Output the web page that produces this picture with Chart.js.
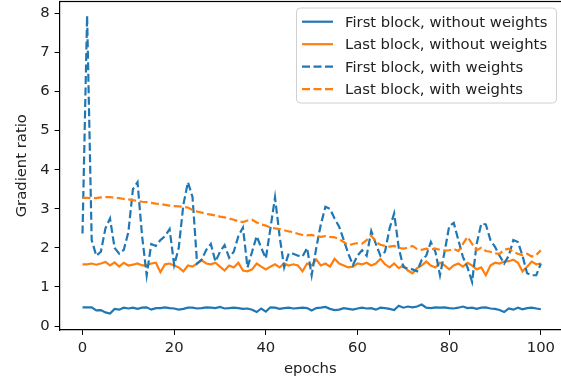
<!DOCTYPE html>
<html>
<head>
<meta charset="utf-8">
<script src="https://cdn.jsdelivr.net/npm/chart.js@4.4.0/dist/chart.umd.min.js"></script>
<style>
  html, body { margin: 0; padding: 0; background: #fff; overflow: hidden; }
  canvas { display: block; }
</style>
</head>
<body>
<canvas id="gradChart" width="561" height="383"></canvas>
<script>
// epochs 0..100
const epochs = Array.from({ length: 101 }, (_, i) => i);

const xTicks = [0, 20, 40, 60, 80, 100];
const yTicks = [0, 1, 2, 3, 4, 5, 6, 7, 8];

// First block, without weights
const firstNoWeights = [
  0.48, 0.48, 0.48, 0.40, 0.41, 0.35, 0.32, 0.44, 0.42, 0.47,
  0.45, 0.47, 0.44, 0.47, 0.48, 0.42, 0.46, 0.46, 0.48, 0.46,
  0.45, 0.42, 0.44, 0.47, 0.47, 0.45, 0.46, 0.48, 0.47, 0.46,
  0.49, 0.45, 0.46, 0.47, 0.46, 0.44, 0.45, 0.42, 0.36, 0.45,
  0.37, 0.48, 0.47, 0.44, 0.46, 0.47, 0.45, 0.46, 0.47, 0.46,
  0.40, 0.46, 0.47, 0.49, 0.44, 0.41, 0.42, 0.46, 0.44, 0.42,
  0.45, 0.47, 0.45, 0.46, 0.42, 0.47, 0.46, 0.44, 0.41, 0.52,
  0.47, 0.50, 0.48, 0.50, 0.55, 0.47, 0.46, 0.48, 0.47, 0.48,
  0.46, 0.45, 0.47, 0.50, 0.46, 0.47, 0.44, 0.47, 0.48, 0.45,
  0.44, 0.41, 0.36, 0.45, 0.42, 0.47, 0.43, 0.46, 0.47, 0.45,
  0.43
];

// Last block, without weights
const lastNoWeights = [
  1.58, 1.58, 1.60, 1.57, 1.60, 1.64, 1.55, 1.63, 1.52, 1.62,
  1.55, 1.57, 1.60, 1.55, 1.55, 1.60, 1.62, 1.38, 1.58, 1.60,
  1.55, 1.50, 1.40, 1.55, 1.52, 1.60, 1.68, 1.60, 1.58, 1.62,
  1.52, 1.42, 1.55, 1.50, 1.62, 1.42, 1.40, 1.45, 1.60, 1.52,
  1.45, 1.52, 1.58, 1.50, 1.60, 1.55, 1.58, 1.55, 1.40, 1.60,
  1.55, 1.70, 1.55, 1.60, 1.52, 1.72, 1.60, 1.55, 1.50, 1.52,
  1.60, 1.58, 1.62, 1.55, 1.60, 1.72, 1.58, 1.50, 1.60, 1.48,
  1.55, 1.42, 1.35, 1.48, 1.55, 1.65, 1.55, 1.50, 1.62, 1.55,
  1.45, 1.55, 1.60, 1.52, 1.62, 1.55, 1.45, 1.50, 1.30, 1.55,
  1.62, 1.60, 1.65, 1.66, 1.70, 1.62, 1.40, 1.52, 1.65, 1.58,
  1.60
];

// First block, with weights
const firstWeights = [
  2.37, 7.94, 2.20, 1.80, 1.90, 2.50, 2.75, 2.00, 1.85, 1.95,
  2.40, 3.50, 3.68, 2.30, 1.30, 2.10, 2.05, 2.20, 2.30, 2.48,
  1.56, 2.00, 3.10, 3.68, 3.30, 1.60, 1.70, 1.95, 2.10, 1.65,
  1.90, 2.07, 1.75, 1.90, 2.30, 2.52, 1.50, 1.90, 2.30, 2.00,
  1.73, 2.50, 3.29, 2.30, 1.50, 1.86, 1.85, 1.80, 1.78, 2.00,
  1.30, 2.00, 2.60, 3.05, 3.00, 2.75, 2.54, 2.20, 1.85, 1.56,
  1.80, 1.94, 1.80, 2.43, 2.10, 1.80, 1.90, 2.50, 2.88, 2.00,
  1.51, 1.47, 1.45, 1.40, 1.69, 1.80, 2.15, 1.90, 1.30, 1.90,
  2.55, 2.64, 2.20, 1.77, 1.50, 1.13, 2.10, 2.62, 2.60, 2.20,
  2.03, 1.80, 1.60, 1.80, 2.20, 2.15, 1.80, 1.35, 1.30, 1.30,
  1.60
];

// Last block, with weights
const lastWeights = [
  3.28, 3.28, 3.27, 3.27, 3.29, 3.30, 3.30, 3.28, 3.27, 3.25,
  3.24, 3.22, 3.20, 3.18, 3.17, 3.15, 3.13, 3.12, 3.10, 3.08,
  3.07, 3.06, 3.05, 3.03, 2.97, 2.93, 2.90, 2.87, 2.85, 2.83,
  2.80, 2.78, 2.75, 2.72, 2.68, 2.66, 2.70, 2.72, 2.65, 2.60,
  2.57, 2.52, 2.50, 2.48, 2.45, 2.42, 2.40, 2.36, 2.33, 2.32,
  2.33, 2.30, 2.28, 2.30, 2.28, 2.27, 2.22, 2.15, 2.07, 2.10,
  2.12, 2.11, 2.20, 2.32, 2.15, 2.08, 2.05, 2.03, 2.05, 2.00,
  1.98, 2.00, 2.05, 1.97, 1.95, 1.98, 1.96, 1.98, 1.95, 1.93,
  1.94, 1.97, 1.92, 2.10, 2.28, 2.10, 1.94, 2.00, 1.92, 1.90,
  1.86, 1.85, 1.95, 1.98, 1.90, 1.85, 1.81, 1.85, 1.78, 1.82,
  1.94
];

const BLUE = "#1f77b4";
const ORANGE = "#ff7f0e";
const FONT = "DejaVu Sans";
const FONT_SIZE = 14.8;
const TEXT = "#222";
const DASH = [8, 3.5];

// matplotlib-style top spine and boxed legend
const framePlugin = {
  id: "frame",
  afterDraw(chart) {
    const { ctx, chartArea: a } = chart;
    ctx.save();
    // the source axes are cut off on the right: keep that edge open
    ctx.fillStyle = "#fff";
    ctx.fillRect(a.right - 3, a.top + 1, 4, a.bottom - a.top - 2);
    ctx.fillStyle = "#000";
    ctx.fillRect(a.left - 0.6, a.top - 0.6, chart.width - a.left + 1, 1.2);

    // legend box
    const bx = 296.5, by = 8, bw = 260, bh = 95;
    ctx.beginPath();
    ctx.roundRect(bx, by, bw, bh, 4);
    ctx.fillStyle = "rgba(255,255,255,0.8)";
    ctx.fill();
    ctx.strokeStyle = "#d0d0d0";
    ctx.lineWidth = 1;
    ctx.stroke();

    ctx.font = FONT_SIZE + "px '" + FONT + "'";
    ctx.textBaseline = "middle";
    ctx.textAlign = "left";
    chart.data.datasets.forEach((ds, i) => {
      const y = 21.7 + i * 22.5;
      ctx.strokeStyle = ds.borderColor;
      ctx.lineWidth = ds.borderWidth;
      ctx.setLineDash(ds.borderDash || []);
      ctx.beginPath();
      ctx.moveTo(302, y);
      ctx.lineTo(333, y);
      ctx.stroke();
      ctx.setLineDash([]);
      ctx.fillStyle = TEXT;
      ctx.fillText(ds.label, 345, y + 1);
    });
    ctx.restore();
  },
};

const ctx = document.getElementById("gradChart").getContext("2d");

new Chart(ctx, {
  type: "line",
  data: {
    labels: epochs,
    datasets: [
      {
        label: "First block, without weights",
        data: firstNoWeights,
        borderColor: BLUE,
        borderWidth: 2.2,
        order: 3,
      },
      {
        label: "Last block, without weights",
        data: lastNoWeights,
        borderColor: ORANGE,
        borderWidth: 2.2,
        order: 2,
      },
      {
        label: "First block, with weights",
        data: firstWeights,
        borderColor: BLUE,
        borderWidth: 2.2,
        borderDash: DASH,
        order: 1,
      },
      {
        label: "Last block, with weights",
        data: lastWeights,
        borderColor: ORANGE,
        borderWidth: 2.2,
        borderDash: DASH,
        order: 0,
      },
    ],
  },
  options: {
    responsive: false,
    animation: false,
    elements: {
      point: { radius: 0 },
      line: { tension: 0, fill: false },
    },
    layout: { padding: { left: 0, right: 0, top: 1.5, bottom: 0 } },
    plugins: {
      legend: { display: false },
      tooltip: { enabled: false },
    },
    scales: {
      x: {
        type: "linear",
        min: -5,
        max: 104.4, // axes run a little past the right edge in the source
        afterBuildTicks: (scale) => {
          scale.ticks = xTicks.map((v) => ({ value: v }));
        },
        afterFit: (scale) => {
          scale.height = 53;
          scale.paddingLeft = 0;
          scale.paddingRight = 0;
        },
        grid: {
          drawOnChartArea: false,
          drawTicks: true,
          tickLength: 5,
          tickColor: "#000",
        },
        border: { display: true, color: "#000", width: 1.2 },
        ticks: {
          color: TEXT,
          padding: 4,
          maxRotation: 0,
          font: { family: FONT, size: FONT_SIZE },
        },
        title: {
          display: true,
          text: "epochs",
          color: TEXT,
          padding: { top: 0, bottom: 4.5 },
          font: { family: FONT, size: FONT_SIZE },
        },
      },
      y: {
        min: -0.1,
        max: 8.3,
        afterBuildTicks: (scale) => {
          scale.ticks = yTicks.map((v) => ({ value: v }));
        },
        afterFit: (scale) => {
          scale.width = 59.6;
          scale.paddingTop = 0;
          scale.paddingBottom = 0;
        },
        grid: {
          drawOnChartArea: false,
          drawTicks: true,
          tickLength: 5,
          tickColor: "#000",
        },
        border: { display: true, color: "#000", width: 1.2 },
        ticks: {
          color: TEXT,
          padding: 5,
          font: { family: FONT, size: FONT_SIZE },
        },
        title: {
          display: true,
          text: "Gradient ratio",
          color: TEXT,
          padding: { top: 13.5, bottom: 0 },
          font: { family: FONT, size: FONT_SIZE },
        },
      },
    },
  },
  plugins: [framePlugin],
});
</script>
</body>
</html>
